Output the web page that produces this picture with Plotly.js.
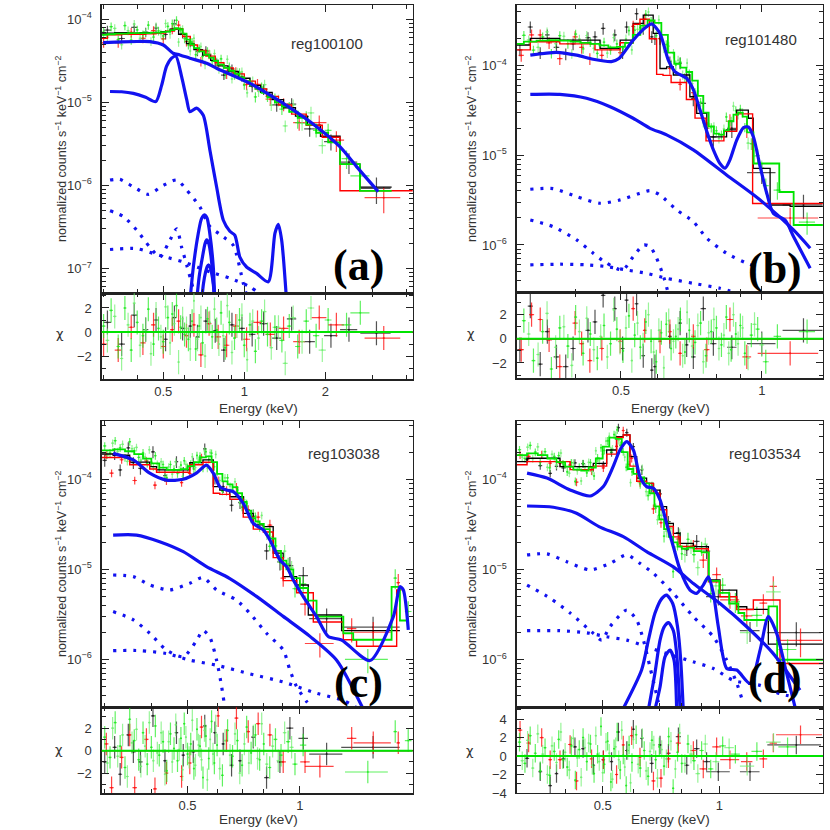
<!DOCTYPE html>
<html><head><meta charset="utf-8">
<script src="https://cdn.plot.ly/plotly-3.0.1.min.js"></script>
<style>html,body{margin:0;padding:0;background:#fff}#g{width:830px;height:830px}</style>
</head><body><div id="g"></div>
<script>
// ================= PANEL (a) reg100100 =================
const aGrnE=[0.30,0.32,0.34,0.36,0.38,0.40,0.42,0.44,0.46,0.48,0.50,0.52,0.54,0.56,0.58,0.60,0.62,0.64,0.66,0.68,0.70,0.73,0.76,0.79,0.82,0.85,0.88,0.92,0.96,1.00,1.05,1.10,1.16,1.22,1.30,1.38,1.47,1.58,1.70,1.85,2.05,2.40,2.70];
const aGrnDE=[0.005,0.005,0.005,0.005,0.005,0.005,0.005,0.005,0.005,0.005,0.006,0.006,0.006,0.006,0.006,0.006,0.006,0.006,0.006,0.006,0.008,0.008,0.008,0.008,0.01,0.01,0.01,0.012,0.012,0.012,0.015,0.015,0.02,0.02,0.025,0.03,0.03,0.035,0.04,0.05,0.06,0.1,0.22];
const aGrnY=[7.0e-5,8.15e-5,5.7e-5,8.4e-5,5.6e-5,7.45e-5,6.55e-5,8.5e-5,6.1e-5,7.25e-5,6.3e-5,8.2e-5,8.85e-5,9.7e-5,7.3e-5,5.85e-5,4.9e-5,5.3e-5,3.75e-5,4.45e-5,3.57e-5,4.1e-5,3.14e-5,3.07e-5,3.34e-5,2.19e-5,2.69e-5,2.12e-5,2.3e-5,1.61e-5,1.77e-5,1.16e-5,1.52e-5,1.17e-5,1.11e-5,8.3e-6,8.8e-6,5.7e-6,6.75e-6,4.6e-6,4.6e-6,2.1e-6,1.3e-6];
const aGrnRel=[0.12,0.12,0.12,0.12,0.12,0.12,0.12,0.12,0.12,0.12,0.12,0.12,0.12,0.12,0.12,0.12,0.12,0.12,0.12,0.12,0.12,0.12,0.12,0.12,0.12,0.12,0.12,0.12,0.12,0.12,0.12,0.14,0.14,0.14,0.15,0.15,0.15,0.16,0.16,0.18,0.2,0.25,0.3];
const aGrnChi=[0.5,1.8,-1.2,2.0,-1.5,0.8,-0.3,1.9,-1.0,0.3,-0.8,1.2,1.5,2.2,0.4,-0.2,-0.6,0.9,-1.4,0.5,-0.9,1.1,-0.4,0.2,1.6,-1.3,0.8,-0.5,1.0,-1.1,0.6,-1.6,0.9,-0.2,0.4,-0.7,0.5,-1.2,0.9,-0.3,1.0,0.6,1.6];
const aGrn2E=[0.31,0.33,0.35,0.37,0.39,0.41,0.43,0.45,0.47,0.49,0.51,0.53,0.55,0.57,0.59,0.61,0.63,0.65,0.67,0.69,0.715,0.745,0.775,0.805,0.835,0.865,0.90,0.94,0.98,1.025,1.075,1.13,1.19,1.26,1.34,1.42,1.52,1.64,1.77,1.95];
const aGrn2DE=[0.005,0.005,0.005,0.005,0.005,0.005,0.005,0.005,0.005,0.005,0.005,0.005,0.005,0.005,0.005,0.005,0.005,0.005,0.005,0.005,0.008,0.008,0.008,0.008,0.008,0.008,0.01,0.01,0.01,0.01,0.015,0.015,0.02,0.02,0.025,0.03,0.035,0.04,0.05,0.06];
const aGrn2Y=[6.05e-5,7.75e-5,4.93e-5,7.29e-5,8.76e-5,5.9e-5,6.96e-5,5.41e-5,8.14e-5,6.66e-5,8.89e-5,6.6e-5,8.46e-5,5.32e-5,7.58e-5,5.9e-5,4.16e-5,5.9e-5,4.18e-5,4.69e-5,2.85e-5,3.78e-5,3.87e-5,2.51e-5,2.75e-5,3.29e-5,1.91e-5,2.33e-5,2.34e-5,1.3e-5,1.8e-5,1.35e-5,1.63e-5,9.26e-6,1.06e-5,5.2e-6,9.27e-6,5.56e-6,7.45e-6,3.01e-6];
const aGrn2Rel=[0.12,0.12,0.12,0.12,0.12,0.12,0.12,0.12,0.12,0.12,0.12,0.12,0.12,0.12,0.12,0.12,0.12,0.12,0.12,0.12,0.12,0.12,0.12,0.12,0.12,0.12,0.12,0.12,0.12,0.12,0.14,0.14,0.15,0.15,0.16,0.16,0.17,0.18,0.19,0.2];
const aGrn2Chi=[-0.7,1.3,-2.2,0.6,2.4,-1.1,0.2,-1.8,1.5,-0.4,2.1,-0.9,0.7,-2.5,1.1,0.3,-1.4,2.6,-0.6,1.2,-2.0,0.8,1.9,-1.0,-0.3,2.2,-1.7,0.5,1.4,-2.3,0.9,-0.5,1.7,-1.3,0.4,-2.6,1.2,-0.8,2.0,-1.5];
const aBlkE=[0.31,0.35,0.39,0.43,0.47,0.51,0.55,0.59,0.63,0.67,0.72,0.78,0.84,0.90,0.98,1.07,1.18,1.32,1.50,1.75,2.10,2.45,3.10];
const aBlkDE=[0.01,0.01,0.01,0.01,0.01,0.01,0.01,0.01,0.01,0.01,0.015,0.015,0.02,0.02,0.025,0.03,0.04,0.05,0.06,0.08,0.12,0.18,0.4];
const aBlkY=[7.4e-5,5.87e-5,8.0e-5,7.0e-5,7.85e-5,6.55e-5,8.8e-5,6.75e-5,5.3e-5,4.12e-5,4.2e-5,3.14e-5,2.13e-5,2.53e-5,2.03e-5,1.55e-5,1.44e-5,9.3e-6,9.5e-6,4.8e-6,3.36e-6,1.9e-6,9.2e-7];
const aBlkRel=[0.13,0.13,0.13,0.13,0.13,0.13,0.13,0.13,0.13,0.13,0.13,0.13,0.13,0.13,0.13,0.15,0.15,0.17,0.18,0.2,0.22,0.28,0.35];
const aBlkChi=[0.8,-1.0,1.4,0.2,1.0,-0.6,1.2,0.3,0.5,-0.4,0.9,0.1,-1.5,0.6,0.3,-0.2,0.7,-0.5,1.1,-0.8,-0.3,0.2,-0.1];
const aRedE=[0.30,0.34,0.38,0.42,0.46,0.50,0.54,0.57,0.61,0.65,0.69,0.74,0.80,0.86,0.93,1.02,1.12,1.25,1.40,1.60,1.90,2.20,3.30];
const aRedDE=[0.01,0.01,0.01,0.01,0.01,0.01,0.01,0.01,0.01,0.01,0.015,0.015,0.02,0.02,0.025,0.03,0.04,0.05,0.06,0.08,0.12,0.15,0.5];
const aRedY=[5.2e-5,5.2e-5,6.95e-5,5.9e-5,7.3e-5,5.8e-5,7.6e-5,8.5e-5,5.4e-5,4.96e-5,3.1e-5,3.8e-5,2.8e-5,2.19e-5,2.34e-5,1.64e-5,1.64e-5,1.09e-5,9.5e-6,5.7e-6,5.7e-6,3.5e-6,7.1e-7];
const aRedRel=[0.13,0.13,0.13,0.13,0.13,0.13,0.13,0.13,0.13,0.13,0.13,0.13,0.13,0.13,0.13,0.15,0.16,0.17,0.18,0.2,0.22,0.28,0.35];
const aRedChi=[-1.0,-1.5,0.4,-0.9,0.6,-1.2,0.2,0.9,-0.3,0.6,-1.9,0.7,-0.4,-1.1,0.5,-0.6,0.8,-0.2,0.3,-0.8,1.2,0.6,-0.5];
const aBlkModE=[0.29,0.33,0.37,0.41,0.45,0.49,0.53,0.57,0.61,0.65,0.70,0.75,0.80,0.87,0.95,1.05,1.15,1.27,1.40,1.55,1.72,1.92,2.27,2.69,3.53];
const aBlkModY=[6.8e-5,6.9e-5,6.8e-5,6.9e-5,6.9e-5,7.1e-5,7.6e-5,6.6e-5,5.1e-5,4.3e-5,3.7e-5,3.2e-5,2.75e-5,2.35e-5,1.95e-5,1.6e-5,1.32e-5,1.08e-5,8.6e-6,6.8e-6,5.3e-6,3.9e-6,1.8e-6,9.5e-7,9.5e-7];
const aRedModE=[0.29,0.31,0.35,0.39,0.43,0.47,0.51,0.55,0.59,0.63,0.67,0.72,0.78,0.84,0.91,1.00,1.10,1.21,1.34,1.50,1.70,1.95,2.27,4.3];
const aRedModY=[5.9e-5,6.5e-5,6.6e-5,6.6e-5,6.7e-5,6.8e-5,7.2e-5,7.7e-5,6.2e-5,4.9e-5,4.2e-5,3.6e-5,3.0e-5,2.6e-5,2.2e-5,1.8e-5,1.45e-5,1.18e-5,9.3e-6,7.2e-6,5.3e-6,3.8e-6,8.6e-7,8.6e-7];
const aGrnModE=[0.29,0.31,0.33,0.35,0.37,0.39,0.41,0.43,0.45,0.47,0.49,0.51,0.53,0.55,0.57,0.59,0.61,0.63,0.65,0.68,0.71,0.74,0.77,0.80,0.84,0.88,0.92,0.96,1.00,1.05,1.10,1.16,1.22,1.30,1.38,1.47,1.58,1.70,1.85,2.05,2.27,2.69,3.53];
const aGrnModY=[6.5e-5,6.6e-5,6.7e-5,6.7e-5,6.8e-5,6.8e-5,6.8e-5,6.8e-5,6.9e-5,6.9e-5,7.0e-5,7.1e-5,7.4e-5,7.8e-5,7.6e-5,6.7e-5,5.7e-5,5.0e-5,4.5e-5,4.1e-5,3.75e-5,3.45e-5,3.15e-5,2.85e-5,2.6e-5,2.4e-5,2.2e-5,2.0e-5,1.8e-5,1.6e-5,1.45e-5,1.3e-5,1.15e-5,1.0e-5,8.9e-6,7.7e-6,6.5e-6,5.4e-6,4.3e-6,3.3e-6,1.8e-6,8.6e-7,8.6e-7];
const aTotE=[0.299,0.35,0.40,0.446,0.50,0.544,0.576,0.628,0.725,0.789,1.05,1.396,1.857,2.267,2.615,3.148];
const aTotY=[5.24e-5,5.35e-5,5.4e-5,5.38e-5,4.9e-5,3.9e-5,3.72e-5,3.4e-5,2.95e-5,2.57e-5,1.69e-5,9.7e-6,5.09e-6,2.92e-6,1.68e-6,8.4e-7];
const aLineE=[0.317,0.35,0.387,0.43,0.469,0.493,0.514,0.537,0.557,0.585,0.611,0.628,0.665,0.704,0.745,0.789,0.836,0.884,0.923,0.963,1.020,1.111,1.228,1.300,1.338,1.377,1.437];
const aLineY=[1.35e-5,1.34e-5,1.28e-5,1.15e-5,1.02e-5,1.6e-5,2.7e-5,3.4e-5,3.6e-5,2.04e-5,1.08e-5,7.7e-6,8.5e-6,7.0e-6,2.67e-6,9.6e-7,3.8e-7,2.8e-7,2.5e-7,1.37e-7,1.04e-7,8.7e-8,6.9e-8,2.64e-7,3.4e-7,2.2e-7,4e-8];
const aG1E=[0.628,0.647,0.674,0.694,0.714,0.728,0.745,0.767,0.777];
const aG1Y=[4e-8,1.05e-7,2.6e-7,4.0e-7,4.4e-7,4.0e-7,2.6e-7,1.05e-7,4e-8];
const aG2E=[0.665,0.68,0.70,0.715,0.725,0.738,0.752,0.765,0.777];
const aG2Y=[4e-8,8e-8,1.4e-7,2.0e-7,2.2e-7,2.0e-7,1.4e-7,8e-8,4e-8];
const aG3E=[0.694,0.705,0.718,0.728,0.735,0.745,0.755,0.767,0.777];
const aG3Y=[4e-8,6.5e-8,9e-8,1.05e-7,1.1e-7,1.05e-7,9e-8,6.5e-8,4e-8];
const aD1E=[0.317,0.345,0.387,0.440,0.50,0.561,0.611,0.684,0.745,0.836,0.910,0.992,1.035];
const aD1Y=[1.16e-6,1.18e-6,9.6e-7,7.8e-7,1.0e-6,1.16e-6,8.8e-7,5.5e-7,3.2e-7,2.4e-7,1.9e-7,6.6e-8,4e-8];
const aD2E=[0.317,0.356,0.398,0.446,0.486,0.522,0.561,0.585,0.611,0.665];
const aD2Y=[4.95e-7,4.2e-7,2.9e-7,1.8e-7,1.37e-7,2.0e-7,3.0e-7,1.8e-7,1.1e-7,4e-8];
const aD3E=[0.317,0.398,0.486,0.593,0.745,0.884,1.05,1.18];
const aD3Y=[1.69e-7,1.73e-7,1.43e-7,1.2e-7,9.1e-8,7.6e-8,6.0e-8,4.5e-8];

// ================= PANEL (b) reg101480 =================
const bBlkE=[0.304,0.320,0.336,0.348,0.364,0.381,0.395,0.425,0.440,0.458,0.485,0.504,0.514,0.540,0.558,0.582,0.591,0.636,0.669,0.691,0.714,0.750,0.788,0.863,1.000,1.228];
const bBlkDE=[0.004,0.004,0.004,0.004,0.005,0.005,0.005,0.005,0.005,0.005,0.005,0.005,0.005,0.005,0.005,0.005,0.005,0.006,0.006,0.006,0.008,0.01,0.012,0.02,0.07,0.12];
const bBlkY=[1.5e-4,2.7e-4,1.4e-4,2.2e-4,1.6e-4,1.35e-4,1.75e-4,2.05e-4,2.1e-4,2.6e-4,2.2e-4,1.4e-4,2.7e-4,3.8e-4,2.6e-4,2.1e-4,2.0e-4,1.1e-4,1.07e-4,7.4e-5,4.3e-5,3.8e-5,1.6e-5,2.0e-5,6.4e-6,2.8e-6];
const bBlkRel=[0.15,0.15,0.15,0.15,0.15,0.15,0.15,0.15,0.15,0.15,0.15,0.15,0.15,0.15,0.15,0.15,0.15,0.15,0.15,0.15,0.18,0.2,0.22,0.22,0.25,0.3];
const bBlkChi=[-0.9,2.7,-2.1,0.6,-1.5,-2.3,-0.8,0.7,1.4,3.6,2.5,-0.8,3.2,2.9,-1.4,-2.6,-2.3,0.2,1.3,-0.5,-1.5,2.5,-0.4,-0.7,-0.4,0.7];
const bRedE=[0.306,0.322,0.336,0.351,0.370,0.399,0.412,0.429,0.455,0.498,0.531,0.562,0.606,0.636,0.669,0.714,0.763,0.855,0.929,1.15];
const bRedDE=[0.004,0.004,0.004,0.005,0.005,0.005,0.005,0.005,0.005,0.005,0.005,0.005,0.006,0.006,0.006,0.008,0.01,0.015,0.02,0.17];
const bRedY=[1.3e-4,2.2e-4,2.2e-4,1.8e-4,1.2e-4,2.1e-4,1.6e-4,1.2e-4,1.3e-4,1.4e-4,2.75e-4,3.3e-4,2.0e-4,9.3e-5,6.2e-5,5.0e-5,2.0e-5,2.4e-5,2.0e-5,2.0e-6];
const bRedRel=[0.15,0.15,0.15,0.15,0.15,0.15,0.15,0.15,0.15,0.15,0.15,0.15,0.15,0.15,0.15,0.15,0.18,0.2,0.22,0.3];
const bRedChi=[-0.9,2.0,1.6,-0.1,-2.3,1.3,-0.4,-1.8,-0.8,-0.2,2.5,0.7,-0.2,0.6,-1.2,0.2,-0.9,1.6,-1.5,-1.2];
const bGrnE=[0.31,0.325,0.34,0.355,0.37,0.385,0.40,0.415,0.43,0.445,0.46,0.475,0.49,0.505,0.52,0.535,0.55,0.565,0.58,0.595,0.61,0.625,0.64,0.655,0.67,0.685,0.70,0.72,0.74,0.76,0.78,0.80,0.82,0.84,0.86,0.88,0.90,0.92,0.95,0.98,1.02,1.08,1.25];
const bGrnDE=[0.003,0.003,0.003,0.003,0.003,0.003,0.003,0.003,0.003,0.003,0.003,0.003,0.003,0.003,0.003,0.003,0.003,0.003,0.003,0.003,0.003,0.003,0.003,0.003,0.003,0.003,0.003,0.005,0.005,0.005,0.005,0.005,0.005,0.005,0.005,0.005,0.005,0.005,0.008,0.01,0.015,0.02,0.05];
const bGrnY=[2.18e-4,1.49e-4,2.09e-4,1.37e-4,2.16e-4,1.76e-4,2.25e-4,1.54e-4,1.83e-4,1.37e-4,1.83e-4,1.50e-4,1.75e-4,1.54e-4,2.46e-4,2.49e-4,2.66e-4,3.74e-4,3.12e-4,2.16e-4,2.23e-4,1.72e-4,1.04e-4,1.02e-4,1.10e-4,7.4e-5,8.1e-5,5.0e-5,3.9e-5,2.0e-5,2.04e-5,1.88e-5,1.69e-5,2.68e-5,2.41e-5,3.14e-5,3.28e-5,2.05e-5,1.35e-5,9.9e-6,4.6e-6,4.1e-6,1.8e-6];
const bGrnRel=[0.12,0.12,0.12,0.12,0.12,0.12,0.12,0.12,0.12,0.12,0.12,0.12,0.12,0.12,0.12,0.12,0.12,0.12,0.12,0.12,0.12,0.12,0.12,0.12,0.12,0.12,0.12,0.12,0.12,0.12,0.12,0.12,0.12,0.12,0.12,0.12,0.12,0.12,0.15,0.18,0.2,0.22,0.28];
const bGrnChi=[1.5,-1.8,0.6,-2.5,0.9,-0.6,1.8,-1.2,0.4,-1.6,1.1,-0.4,0.8,-1.0,1.9,0.3,-0.7,1.4,-0.2,-1.9,0.5,1.2,-0.8,0.2,1.6,-1.1,0.7,-0.3,1.3,-1.4,0.6,0.9,-0.5,1.8,-0.9,0.4,1.1,-1.2,0.3,0.8,-1.9,0.2,0.6];
const bGrn2E=[0.3175,0.3325,0.3475,0.3625,0.3775,0.3925,0.4075,0.4225,0.4375,0.4525,0.4675,0.4825,0.4975,0.5125,0.5275,0.5425,0.5575,0.5725,0.5875,0.6025,0.6175,0.6325,0.6475,0.6625,0.6775,0.6925,0.71,0.73,0.75,0.77,0.79,0.81,0.83,0.85,0.87,0.89,0.91,0.935,0.965,1.0];
const bGrn2DE=[0.003,0.003,0.003,0.003,0.003,0.003,0.003,0.003,0.003,0.003,0.003,0.003,0.003,0.003,0.003,0.003,0.003,0.003,0.003,0.003,0.003,0.003,0.003,0.003,0.003,0.003,0.005,0.005,0.005,0.005,0.005,0.005,0.005,0.005,0.005,0.005,0.005,0.008,0.01,0.012];
const bGrn2Y=[1.94e-4,1.6e-4,2.38e-4,1.76e-4,2.13e-4,1.36e-4,1.98e-4,2.17e-4,1.56e-4,1.72e-4,1.38e-4,2.06e-4,1.56e-4,1.99e-4,1.5e-4,2.54e-4,2.63e-4,3.97e-4,2.78e-4,3.25e-4,1.57e-4,1.65e-4,1.37e-4,1.15e-4,7.9e-5,1.07e-4,6.3e-5,5.2e-5,2.32e-5,2.23e-5,2.09e-5,1.54e-5,1.97e-5,2.05e-5,3.53e-5,2.86e-5,2.99e-5,1.37e-5,9.85e-6,7.3e-6];
const bGrn2Rel=[0.12,0.12,0.12,0.12,0.12,0.12,0.12,0.12,0.12,0.12,0.12,0.12,0.12,0.12,0.12,0.12,0.12,0.12,0.12,0.12,0.12,0.12,0.12,0.12,0.12,0.12,0.12,0.12,0.12,0.12,0.12,0.12,0.12,0.12,0.12,0.12,0.12,0.15,0.18,0.2];
const bGrn2Chi=[0.4,-1.3,2.1,-0.7,1.0,-2.2,0.6,1.7,-0.9,0.2,-1.5,2.4,-0.3,0.9,-1.8,1.3,-0.5,2.0,-1.1,0.7,-2.4,1.5,-0.2,0.8,-1.4,2.2,-0.6,1.1,-1.9,0.5,1.6,-0.8,0.3,-1.2,2.0,-0.4,0.9,-1.6,1.2,-0.5];
const bBlkModE=[0.299,0.320,0.370,0.451,0.498,0.531,0.558,0.586,0.606,0.626,0.647,0.702,0.726,0.763,0.841,0.884,0.936,0.959,1.042,1.15,1.351];
const bBlkModY=[1.70e-4,2.02e-4,1.93e-4,1.56e-4,1.93e-4,2.97e-4,3.67e-4,2.29e-4,9.3e-5,9.7e-5,7.87e-5,4.5e-5,2.94e-5,1.61e-5,1.92e-5,3.2e-5,2.59e-5,7.16e-6,2.79e-6,2.7e-6,2.7e-6];
const bRedModE=[0.299,0.320,0.370,0.440,0.498,0.531,0.549,0.575,0.596,0.615,0.640,0.690,0.720,0.760,0.830,0.884,0.956,1.351];
const bRedModY=[1.50e-4,1.85e-4,1.75e-4,1.5e-4,1.8e-4,2.9e-4,3.3e-4,2.0e-4,8.0e-5,7.8e-5,6.5e-5,4.2e-5,2.6e-5,1.45e-5,1.85e-5,2.9e-5,2.9e-6,2.9e-6];
const bGrnModE=[0.299,0.31,0.33,0.35,0.37,0.39,0.41,0.43,0.45,0.47,0.49,0.51,0.53,0.55,0.57,0.59,0.61,0.63,0.65,0.67,0.69,0.71,0.73,0.75,0.77,0.79,0.81,0.83,0.85,0.87,0.89,0.91,0.93,0.96,1.09,1.17,1.351];
const bGrnModY=[1.75e-4,1.85e-4,1.9e-4,1.92e-4,1.9e-4,1.85e-4,1.8e-4,1.75e-4,1.68e-4,1.6e-4,1.62e-4,1.8e-4,2.2e-4,2.8e-4,3.2e-4,3.0e-4,2.2e-4,1.4e-4,1.05e-4,9.5e-5,8.5e-5,6.8e-5,4.6e-5,3.0e-5,2.1e-5,1.75e-5,1.7e-5,1.9e-5,2.4e-5,2.85e-5,3.0e-5,2.7e-5,1.8e-5,8.1e-6,3.9e-6,1.67e-6,1.67e-6];
const bTotE=[0.320,0.364,0.402,0.436,0.477,0.495,0.531,0.567,0.582,0.606,0.631,0.652,0.691,0.714,0.738,0.763,0.788,0.814,0.835,0.855,0.884,0.914,0.936,0.960,0.992,1.025,1.059,1.122,1.169,1.269];
const bTotY=[1.31e-4,1.41e-4,1.31e-4,1.18e-4,1.11e-4,1.2e-4,1.93e-4,2.72e-4,2.92e-4,2.29e-4,1.16e-4,8.6e-5,7.2e-5,5.4e-5,3.2e-5,1.84e-5,1.15e-5,8.1e-6,7.2e-6,8.9e-6,1.48e-5,2.04e-5,2.07e-5,1.6e-5,7.5e-6,3.77e-6,2.25e-6,1.9e-6,1.24e-6,5.5e-7];
const bContE=[0.320,0.370,0.422,0.474,0.531,0.577,0.626,0.714,0.841,0.992,1.169,1.269];
const bContY=[4.79e-5,4.79e-5,4.33e-5,3.49e-5,2.59e-5,2.0e-5,1.69e-5,1.15e-5,6.04e-6,3.18e-6,1.47e-6,9.2e-7];
const bD1E=[0.320,0.358,0.402,0.451,0.498,0.549,0.577,0.606,0.658,0.714,0.763,0.841,0.929,0.976];
const bD1Y=[4.18e-6,4.25e-6,3.46e-6,2.92e-6,3.18e-6,3.77e-6,4.04e-6,3.61e-6,2.46e-6,1.82e-6,1.19e-6,8.07e-7,6.25e-7,5.73e-7];
const bD2E=[0.320,0.358,0.402,0.436,0.466,0.504,0.531,0.559,0.577,0.596,0.617,0.631];
const bD2Y=[1.9e-6,1.6e-6,1.14e-6,8.1e-7,6.25e-7,5.26e-7,7.4e-7,1.0e-6,9.6e-7,7.1e-7,4.4e-7,2.9e-7];
const bD3E=[0.320,0.370,0.422,0.466,0.514,0.567,0.626,0.714,0.814,0.884];
const bD3Y=[6.0e-7,6.1e-7,6.0e-7,5.73e-7,5.26e-7,4.83e-7,4.25e-7,3.73e-7,3.29e-7,2.9e-7];

// ================= PANEL (c) reg103038 =================
const cBlkE=[0.300,0.319,0.330,0.347,0.358,0.374,0.404,0.435,0.467,0.487,0.518,0.556,0.592,0.623,0.656,0.691,0.750,0.814,0.884,0.940,1.021,1.179,1.570];
const cBlkDE=[0.004,0.004,0.004,0.004,0.005,0.005,0.005,0.005,0.005,0.005,0.006,0.006,0.006,0.006,0.008,0.008,0.01,0.012,0.015,0.02,0.03,0.12,0.28];
const cBlkY=[1.62e-4,1.93e-4,1.27e-4,2.24e-4,1.53e-4,1.32e-4,2.02e-4,1.1e-4,1.57e-4,1.19e-4,1.51e-4,2.18e-4,1.03e-4,8.3e-5,5.15e-5,5.5e-5,3.86e-5,1.6e-5,1.21e-5,1.1e-5,8.5e-6,2.83e-6,2.28e-6];
const cBlkRel=[0.15,0.15,0.15,0.15,0.15,0.15,0.15,0.15,0.15,0.15,0.15,0.15,0.15,0.15,0.15,0.15,0.2,0.2,0.2,0.25,0.25,0.3,0.3];
const cBlkChi=[-1.0,0.3,-2.1,1.4,-0.1,-1.0,3.1,-0.9,1.6,-0.4,-0.1,2.2,1.6,0.6,-1.3,-0.9,1.2,-2.4,-1.0,2.0,1.1,-0.3,0.3];
const cRedE=[0.303,0.313,0.333,0.350,0.361,0.388,0.409,0.439,0.482,0.507,0.545,0.604,0.636,0.676,0.727,0.773,0.831,0.902,1.032,1.131,1.376,1.572,1.834];
const cRedDE=[0.004,0.004,0.004,0.004,0.005,0.005,0.005,0.005,0.005,0.006,0.006,0.006,0.006,0.008,0.008,0.01,0.012,0.015,0.03,0.1,0.04,0.18,0.02];
const cRedY=[1.86e-4,1.17e-4,1.65e-4,1.65e-4,9.7e-5,1.6e-4,8.6e-5,9.6e-5,9.2e-5,1.16e-4,1.75e-4,9.6e-5,7.5e-5,8.1e-5,4.6e-5,3.8e-5,3.1e-5,8e-6,4.1e-6,1.5e-6,2.2e-6,2.0e-6,7.1e-6];
const cRedRel=[0.1,0.1,0.1,0.1,0.1,0.1,0.1,0.1,0.1,0.1,0.1,0.12,0.12,0.12,0.12,0.15,0.15,0.2,0.25,0.3,0.3,0.3,0.25];
const cRedChi=[0.6,-3.3,-0.6,1.4,-3.3,1.0,-3.4,-2.0,-2.3,-1.1,2.1,3.1,0.9,2.9,1.7,2.4,1.4,-1.0,-1.0,-1.4,1.1,0.7,0.7];
const cGrnE=[0.30,0.31,0.32,0.33,0.34,0.35,0.36,0.37,0.38,0.39,0.40,0.41,0.42,0.43,0.44,0.45,0.46,0.47,0.48,0.49,0.50,0.51,0.52,0.53,0.54,0.55,0.56,0.57,0.58,0.59,0.60,0.62,0.64,0.66,0.68,0.70,0.72,0.74,0.76,0.78,0.80,0.83,0.86,0.89,0.93,0.97,1.02,1.52,1.80,1.95];
const cGrnDE=[0.003,0.003,0.003,0.003,0.003,0.003,0.003,0.003,0.003,0.003,0.003,0.003,0.003,0.003,0.003,0.003,0.003,0.003,0.003,0.003,0.003,0.003,0.003,0.003,0.003,0.003,0.003,0.003,0.003,0.003,0.003,0.005,0.005,0.005,0.005,0.005,0.005,0.005,0.005,0.005,0.005,0.008,0.01,0.01,0.012,0.015,0.02,0.2,0.02,0.04];
const cGrnY=[2.35e-4,1.97e-4,2.69e-4,2.24e-4,1.74e-4,2.62e-4,2.07e-4,1.75e-4,1.97e-4,1.5e-4,1.55e-4,1.83e-4,1.3e-4,1.46e-4,1.04e-4,1.46e-4,1.3e-4,1.16e-4,1.44e-4,1.61e-4,1.36e-4,1.48e-4,1.3e-4,1.84e-4,1.82e-4,1.33e-4,2.03e-4,1.67e-4,1.95e-4,1.38e-4,1.21e-4,7.4e-5,1.04e-4,7.8e-5,7.6e-5,4.9e-5,5.4e-5,3.6e-5,3.9e-5,2.9e-5,2.97e-5,1.8e-5,1.82e-5,1.17e-5,1.14e-5,6.1e-6,6.9e-6,1.0e-6,8.0e-6,3.4e-6];
const cGrnRel=[0.1,0.1,0.1,0.1,0.1,0.1,0.1,0.1,0.1,0.1,0.1,0.1,0.1,0.1,0.1,0.1,0.1,0.1,0.1,0.1,0.1,0.1,0.1,0.1,0.1,0.1,0.1,0.1,0.1,0.1,0.1,0.1,0.1,0.1,0.1,0.1,0.1,0.1,0.1,0.1,0.1,0.12,0.14,0.16,0.18,0.2,0.22,0.3,0.25,0.3];
const cGrnChi=[1.2,-0.6,2.5,0.4,-1.5,2.8,0.9,-0.8,1.6,-1.2,0.3,2.2,-0.4,0.8,-1.8,1.5,0.2,-0.9,1.1,2.4,-0.3,0.6,-1.6,1.9,0.4,-2.4,1.3,-0.7,2.6,-1.1,0.5,-2.2,1.8,-0.5,0.9,-1.3,2.1,-0.2,1.4,-0.8,0.6,-1.5,1.0,-0.4,0.8,-1.2,0.5,-1.9,1.7,0.9];
const cGrn2E=[0.305,0.315,0.325,0.335,0.345,0.355,0.365,0.375,0.385,0.395,0.405,0.415,0.425,0.435,0.445,0.455,0.465,0.475,0.485,0.495,0.505,0.515,0.525,0.535,0.545,0.555,0.565,0.575,0.585,0.595,0.61,0.63,0.65,0.67,0.69,0.71,0.73,0.75,0.77,0.79,0.815,0.845,0.875,0.91,0.95];
const cGrn2DE=[0.003,0.003,0.003,0.003,0.003,0.003,0.003,0.003,0.003,0.003,0.003,0.003,0.003,0.003,0.003,0.003,0.003,0.003,0.003,0.003,0.003,0.003,0.003,0.003,0.003,0.003,0.003,0.003,0.003,0.003,0.005,0.005,0.005,0.005,0.005,0.005,0.005,0.005,0.005,0.005,0.008,0.008,0.01,0.01,0.012];
const cGrn2Y=[1.87e-4,2.52e-4,2.04e-4,2.45e-4,1.58e-4,2.19e-4,2.26e-4,1.63e-4,1.77e-4,2.13e-4,1.37e-4,1.47e-4,1.57e-4,1.07e-4,1.37e-4,1.14e-4,1.56e-4,1.28e-4,1.08e-4,1.46e-4,1.32e-4,1.78e-4,1.35e-4,1.63e-4,1.61e-4,2.07e-4,1.33e-4,1.98e-4,1.5e-4,1.89e-4,9.7e-5,1.04e-4,8.4e-5,9.4e-5,5.6e-5,5.9e-5,4.0e-5,4.2e-5,3.16e-5,3.97e-5,2.4e-5,2.31e-5,1.38e-5,1.59e-5,1.05e-5];
const cGrn2Rel=[0.1,0.1,0.1,0.1,0.1,0.1,0.1,0.1,0.1,0.1,0.1,0.1,0.1,0.1,0.1,0.1,0.1,0.1,0.1,0.1,0.1,0.1,0.1,0.1,0.1,0.1,0.1,0.1,0.1,0.1,0.1,0.1,0.1,0.1,0.1,0.1,0.1,0.1,0.1,0.1,0.12,0.13,0.15,0.17,0.18];
const cGrn2Chi=[-1.1,2.0,-0.5,1.4,-2.3,0.7,1.9,-1.4,0.4,2.5,-0.9,-0.2,1.6,-2.1,0.8,-1.0,2.3,0.1,-1.7,1.2,-0.6,2.7,-1.3,0.5,-0.8,1.8,-2.6,1.0,-0.3,2.2,-1.6,0.9,-0.4,1.5,-2.0,0.6,-1.1,1.3,-0.7,2.4,-1.2,0.4,-0.9,1.6,0.3];
const cBlkModE=[0.294,0.316,0.35,0.396,0.413,0.507,0.550,0.586,0.610,0.649,0.705,0.750,0.798,0.848,0.902,0.980,1.053,1.293,1.853];
const cBlkModY=[1.91e-4,1.85e-4,1.55e-4,1.38e-4,1.27e-4,1.53e-4,1.64e-4,8.3e-5,7.6e-5,6.4e-5,4.19e-5,3.11e-5,2.98e-5,1.51e-5,8.3e-6,6.7e-6,3.11e-6,2.09e-6,2.09e-6];
const cRedModE=[0.294,0.316,0.35,0.396,0.413,0.507,0.550,0.586,0.610,0.649,0.705,0.750,0.798,0.848,0.902,0.980,1.086,1.307,1.418,1.816,1.87];
const cRedModY=[1.75e-4,1.75e-4,1.45e-4,1.3e-4,1.2e-4,1.45e-4,1.55e-4,7.0e-5,6.8e-5,6.0e-5,3.8e-5,2.8e-5,2.6e-5,1.35e-5,7.5e-6,5.5e-6,2.6e-6,1.65e-6,1.4e-6,5.9e-6,5.9e-6];
const cGrnModE=[0.294,0.316,0.34,0.36,0.38,0.40,0.42,0.44,0.46,0.48,0.50,0.52,0.54,0.56,0.58,0.60,0.62,0.64,0.66,0.68,0.70,0.72,0.74,0.76,0.78,0.80,0.83,0.86,0.89,0.92,0.96,1.00,1.05,1.108,1.307,1.389,1.76,1.853,1.951];
const cGrnModY=[2.1e-4,2.15e-4,2.05e-4,1.9e-4,1.7e-4,1.5e-4,1.35e-4,1.27e-4,1.27e-4,1.3e-4,1.4e-4,1.55e-4,1.75e-4,1.8e-4,1.55e-4,1.15e-4,9.5e-5,8.8e-5,8.2e-5,7.0e-5,5.6e-5,4.5e-5,3.7e-5,3.4e-5,3.2e-5,2.8e-5,2.2e-5,1.6e-5,1.25e-5,1.0e-5,8.0e-6,6.2e-6,4.5e-6,2.99e-6,1.95e-6,1.65e-6,6.4e-6,2.7e-6,2.7e-6];
const cTotE=[0.316,0.358,0.396,0.439,0.487,0.528,0.562,0.586,0.610,0.636,0.663,0.705,0.750,0.798,0.831,0.884,0.921,0.960,1.021,1.108,1.191,1.293,1.540,1.779,1.853,1.892,1.951];
const cTotY=[1.94e-4,1.64e-4,1.17e-4,9.8e-5,1.0e-4,1.17e-4,1.44e-4,1.17e-4,8.3e-5,7.6e-5,7.3e-5,5.4e-5,3.24e-5,2.74e-5,2.12e-5,1.27e-5,1.07e-5,7.6e-6,4.97e-6,2.98e-6,1.79e-6,1.64e-6,9.7e-7,2.98e-6,6.41e-6,5.9e-6,2.13e-6];
const cContE=[0.316,0.365,0.421,0.487,0.562,0.649,0.765,0.902,1.064,1.254,1.478];
const cContY=[2.4e-5,2.4e-5,2.03e-5,1.57e-5,1.07e-5,7.9e-6,5.0e-6,3.0e-6,1.8e-6,9.8e-7,2.8e-7];
const cD1E=[0.316,0.358,0.396,0.448,0.507,0.550,0.598,0.676,0.734,0.814,0.902,0.940,0.980,1.042,1.086];
const cD1Y=[8.65e-6,8.3e-6,6.7e-6,5.9e-6,7.0e-6,8.1e-6,5.9e-6,4.56e-6,3.25e-6,1.95e-6,1.27e-6,7.6e-7,4.97e-7,3.4e-7,2.8e-7];
const cD2E=[0.316,0.358,0.396,0.439,0.487,0.528,0.550,0.574,0.598,0.617,0.630];
const cD2Y=[3.39e-6,2.75e-6,1.95e-6,1.27e-6,1.07e-6,1.6e-6,2.09e-6,1.75e-6,9.8e-7,5e-7,2.8e-7];
const cD3E=[0.316,0.373,0.439,0.507,0.598,0.734,0.902,1.108,1.307,1.418];
const cD3Y=[1.25e-6,1.25e-6,1.16e-6,9.8e-7,8.6e-7,6.9e-7,5.6e-7,4.2e-7,3.5e-7,2.9e-7];

// ================= PANEL (d) reg103534 =================
const dBlkE=[0.319,0.345,0.366,0.380,0.396,0.424,0.445,0.473,0.502,0.527,0.549,0.577,0.600,0.631,0.669,0.703,0.739,0.784,0.824,0.874,0.927,0.994,1.200,1.580];
const dBlkDE=[0.004,0.004,0.004,0.004,0.005,0.005,0.005,0.005,0.005,0.005,0.005,0.006,0.006,0.006,0.008,0.008,0.01,0.012,0.012,0.015,0.02,0.07,0.07,0.25];
const dBlkY=[1.67e-4,1.42e-4,1.16e-4,1.39e-4,1.34e-4,1.52e-4,1.49e-4,1.35e-4,1.44e-4,1.98e-4,3.74e-4,3.29e-4,2.3e-4,1.27e-4,8.1e-5,6.9e-5,3.4e-5,2.56e-5,1.66e-5,2.05e-5,1.6e-5,5.0e-6,2.1e-6,2.0e-6];
const dBlkRel=[0.1,0.1,0.1,0.1,0.1,0.1,0.1,0.1,0.1,0.1,0.1,0.1,0.1,0.12,0.12,0.12,0.15,0.15,0.15,0.18,0.18,0.2,0.25,0.3];
const dBlkChi=[-0.25,-1.7,-3.2,-1.9,-0.3,1.0,0.8,-1.0,-0.4,-0.6,2.6,0.6,2.9,1.9,-0.8,1.2,0.3,2.1,-1.0,0.8,-0.6,-1.7,-1.7,1.2];
const dRedE=[0.306,0.322,0.348,0.366,0.388,0.412,0.428,0.468,0.502,0.543,0.565,0.594,0.624,0.676,0.707,0.739,0.784,0.857,0.909,0.984,1.065,1.177,1.299,1.378,1.620];
const dRedDE=[0.004,0.004,0.004,0.004,0.005,0.005,0.005,0.005,0.005,0.005,0.005,0.006,0.006,0.008,0.008,0.01,0.012,0.015,0.02,0.025,0.06,0.04,0.03,0.03,0.22];
const dRedY=[1.86e-4,1.79e-4,1.88e-4,1.51e-4,1.51e-4,1.44e-4,9.3e-5,1.24e-4,1.34e-4,2.32e-4,3.47e-4,1.71e-4,9.4e-5,4.7e-5,3.3e-5,2.87e-5,2.18e-5,1.85e-5,1.27e-5,8.8e-6,4.6e-6,3.06e-6,4.25e-6,6.5e-6,1.64e-6];
const dRedRel=[0.1,0.1,0.1,0.1,0.1,0.1,0.1,0.1,0.1,0.1,0.1,0.1,0.12,0.12,0.12,0.15,0.15,0.15,0.18,0.2,0.2,0.25,0.25,0.3,0.35];
const dRedChi=[2.8,1.4,2.0,-0.4,-0.4,1.25,-2.7,-0.3,-0.4,-2.0,1.2,2.2,-0.1,-2.7,-2.4,-0.3,1.4,0.6,-1.4,1.0,-0.4,-0.6,-0.3,1.4,2.3];
const dGrnE=[0.305,0.315,0.325,0.335,0.345,0.355,0.365,0.375,0.385,0.395,0.405,0.415,0.425,0.435,0.445,0.455,0.465,0.475,0.485,0.495,0.505,0.515,0.525,0.535,0.545,0.555,0.565,0.575,0.585,0.595,0.61,0.625,0.64,0.655,0.67,0.685,0.70,0.72,0.74,0.76,0.78,0.80,0.83,0.86,0.90,0.95,1.02,1.10,1.25,1.50];
const dGrnDE=[0.003,0.003,0.003,0.003,0.003,0.003,0.003,0.003,0.003,0.003,0.003,0.003,0.003,0.003,0.003,0.003,0.003,0.003,0.003,0.003,0.003,0.003,0.003,0.003,0.003,0.003,0.003,0.003,0.003,0.003,0.005,0.005,0.005,0.005,0.005,0.005,0.005,0.005,0.005,0.005,0.005,0.005,0.008,0.01,0.012,0.015,0.02,0.03,0.04,0.08];
const dGrnY=[2.13e-4,1.7e-4,2.37e-4,2.0e-4,1.55e-4,2.02e-4,1.34e-4,1.79e-4,1.83e-4,1.49e-4,1.21e-4,1.53e-4,9.5e-5,1.37e-4,1.5e-4,1.18e-4,1.53e-4,1.09e-4,1.73e-4,2.24e-4,2.09e-4,2.67e-4,2.09e-4,3.13e-4,3.53e-4,2.38e-4,2.02e-4,1.36e-4,1.46e-4,1.21e-4,1.47e-4,8.9e-5,9.6e-5,6.6e-5,8.4e-5,4.8e-5,4.0e-5,2.34e-5,3.0e-5,9.5e-6,1.91e-5,1.5e-5,2.16e-5,1.46e-5,1.72e-5,5.4e-6,6.7e-6,4.4e-6,3.1e-6,1.3e-6];
const dGrnRel=[0.1,0.1,0.1,0.1,0.1,0.1,0.1,0.1,0.1,0.1,0.1,0.1,0.1,0.1,0.1,0.1,0.1,0.1,0.1,0.1,0.1,0.1,0.1,0.1,0.1,0.1,0.1,0.1,0.1,0.1,0.12,0.12,0.12,0.12,0.12,0.12,0.12,0.15,0.15,0.15,0.15,0.15,0.18,0.18,0.18,0.2,0.2,0.25,0.25,0.3];
const dGrnChi=[1.5,-0.8,2.2,0.3,-1.6,0.9,-2.1,0.5,1.8,-0.4,-1.2,1.1,-2.6,0.7,2.0,-0.6,1.3,-1.9,0.2,3.2,-0.9,1.6,-2.8,0.8,2.6,-1.5,0.1,-3.2,1.2,-0.7,2.3,-1.3,0.6,-2.2,1.7,-0.4,1.0,-1.1,2.1,-3.5,0.4,-0.8,1.3,-0.5,0.6,-1.4,1.1,0.2,0.5,1.0];
const dGrn2E=[0.31,0.32,0.33,0.34,0.35,0.36,0.37,0.38,0.39,0.40,0.41,0.42,0.43,0.44,0.45,0.46,0.47,0.48,0.49,0.50,0.51,0.52,0.53,0.54,0.55,0.56,0.57,0.58,0.59,0.60,0.6175,0.6325,0.6475,0.6625,0.6775,0.6925,0.71,0.73,0.75,0.77,0.79,0.815,0.845,0.88,0.92,0.98,1.06,1.18,1.38];
const dGrn2DE=[0.003,0.003,0.003,0.003,0.003,0.003,0.003,0.003,0.003,0.003,0.003,0.003,0.003,0.003,0.003,0.003,0.003,0.003,0.003,0.003,0.003,0.003,0.003,0.003,0.003,0.003,0.003,0.003,0.003,0.003,0.005,0.005,0.005,0.005,0.005,0.005,0.005,0.005,0.005,0.005,0.005,0.008,0.01,0.012,0.015,0.02,0.03,0.05,0.06];
const dGrn2Y=[1.76e-4,2.27e-4,1.69e-4,2.29e-4,1.89e-4,1.36e-4,1.89e-4,1.44e-4,1.95e-4,1.44e-4,1.17e-4,1.52e-4,1.25e-4,9.6e-5,1.36e-4,1.54e-4,1.22e-4,2.07e-4,1.6e-4,1.89e-4,2.65e-4,2.99e-4,2.18e-4,3.08e-4,2.69e-4,2.56e-4,1.76e-4,1.38e-4,9.2e-5,1.36e-4,1.03e-4,1.3e-4,7.3e-5,7.4e-5,8.0e-5,3.56e-5,3.98e-5,2.67e-5,2.85e-5,1.58e-5,2.48e-5,1.46e-5,1.81e-5,1.05e-5,1.91e-5,6.6e-6,5.0e-6,2.0e-6,5.66e-6];
const dGrn2Rel=[0.1,0.1,0.1,0.1,0.1,0.1,0.1,0.1,0.1,0.1,0.1,0.1,0.1,0.1,0.1,0.1,0.1,0.1,0.1,0.1,0.1,0.1,0.1,0.1,0.1,0.1,0.1,0.1,0.1,0.1,0.12,0.12,0.12,0.12,0.12,0.12,0.15,0.15,0.15,0.15,0.15,0.18,0.18,0.18,0.18,0.2,0.22,0.25,0.3];
const dGrn2Chi=[-0.5,1.7,-1.3,2.4,0.2,-2.0,1.1,-0.7,2.6,0.4,-1.5,1.9,-0.2,-2.3,0.9,1.4,-1.0,2.2,-0.6,-1.8,1.5,0.3,-2.5,1.0,-0.4,2.8,-1.2,0.6,-2.9,1.8,-0.9,2.0,-1.6,0.5,1.2,-2.4,0.7,-0.3,1.6,-1.4,2.5,-0.8,0.2,-1.9,1.3,-0.6,0.9,-1.1,1.5];
const dBlkModE=[0.300,0.319,0.388,0.473,0.512,0.543,0.565,0.588,0.612,0.649,0.676,0.703,0.731,0.761,0.792,0.857,0.937,1.004,1.109,1.177,1.338,1.855];
const dBlkModY=[1.57e-4,1.71e-4,1.38e-4,1.5e-4,2.11e-4,2.97e-4,3.1e-4,1.78e-4,1.03e-4,9.0e-5,7.6e-5,4.97e-5,3.25e-5,2.52e-5,1.95e-5,1.79e-5,7.65e-6,5.9e-6,3.87e-6,3.61e-6,1.49e-6,1.49e-6];
const dRedModE=[0.300,0.319,0.412,0.473,0.512,0.543,0.565,0.588,0.612,0.649,0.676,0.703,0.731,0.761,0.792,0.857,0.937,1.004,1.109,1.224,1.434,1.855];
const dRedModY=[1.45e-4,1.57e-4,1.28e-4,1.4e-4,1.9e-4,2.9e-4,3.1e-4,1.4e-4,9.5e-5,9.0e-5,7.0e-5,4.6e-5,3.0e-5,2.3e-5,1.8e-5,1.7e-5,7.3e-6,5.0e-6,3.6e-6,4.6e-6,9.1e-7,9.1e-7];
const dGrnModE=[0.300,0.319,0.34,0.36,0.38,0.40,0.42,0.44,0.46,0.48,0.50,0.52,0.54,0.56,0.58,0.60,0.62,0.64,0.66,0.68,0.70,0.72,0.74,0.76,0.78,0.80,0.83,0.86,0.90,0.94,1.00,1.06,1.12,1.16,1.34,1.41,1.855];
const dGrnModY=[1.85e-4,1.94e-4,1.85e-4,1.7e-4,1.55e-4,1.38e-4,1.28e-4,1.25e-4,1.35e-4,1.7e-4,2.3e-4,2.9e-4,2.8e-4,2.0e-4,1.3e-4,1.15e-4,1.05e-4,9.0e-5,7.0e-5,5.0e-5,3.6e-5,2.8e-5,2.3e-5,2.0e-5,1.8e-5,1.7e-5,1.75e-5,1.6e-5,1.55e-5,7.5e-6,5.5e-6,4.2e-6,3.3e-6,2.76e-6,3.9e-6,1.0e-6,1.0e-6];
const dTotE=[0.319,0.359,0.412,0.464,0.502,0.532,0.554,0.577,0.600,0.624,0.649,0.676,0.703,0.731,0.761,0.792,0.840,0.874,0.909,0.937,0.965,0.994,1.045,1.109,1.200,1.274,1.338,1.406,1.492,1.552,1.583];
const dTotY=[1.17e-4,1.03e-4,7.62e-5,6.53e-5,8.3e-5,1.38e-4,2.11e-4,2.62e-4,2.11e-4,1.07e-4,8.3e-5,7.95e-5,5.9e-5,3.25e-5,1.79e-5,9.9e-6,5.93e-6,5.44e-6,6.73e-6,8.3e-6,5.44e-6,2.32e-6,8.0e-7,7.7e-7,5.47e-7,1.28e-6,3.0e-6,1.96e-6,7.05e-7,3.57e-7,2.54e-7];
const dContE=[0.319,0.373,0.428,0.489,0.565,0.649,0.761,0.857,1.004,1.177,1.378,1.615];
const dContY=[5.06e-5,4.9e-5,4.2e-5,2.99e-5,2.31e-5,1.58e-5,1.07e-5,7.0e-6,4.2e-6,2.32e-6,1.17e-6,4.6e-7];
const dD1E=[0.319,0.359,0.404,0.464,0.522,0.577,0.624,0.676,0.761,0.857,0.965,1.045,1.109,1.153];
const dD1Y=[1.45e-5,1.49e-5,1.22e-5,9.9e-6,1.17e-5,1.45e-5,1.17e-5,9.06e-6,5.44e-6,3.0e-6,1.8e-6,9.9e-7,5.5e-7,3.3e-7];
const dD2E=[0.319,0.366,0.412,0.473,0.497,0.522,0.577,0.612,0.637,0.662,0.688,0.703];
const dD2Y=[6.73e-6,4.8e-6,3.3e-6,1.96e-6,1.65e-6,2.33e-6,3.56e-6,2.75e-6,1.65e-6,8.36e-7,4.2e-7,2.8e-7];
const dD3E=[0.319,0.388,0.455,0.512,0.577,0.649,0.731,0.856,0.965,1.087,1.274,1.434,1.552];
const dD3Y=[2.1e-6,2.1e-6,1.99e-6,1.8e-6,1.65e-6,1.4e-6,1.17e-6,9.5e-7,8.0e-7,5.9e-7,5.2e-7,4.2e-7,3.9e-7];
const dG1E=[0.563,0.630,0.656,0.682,0.711,0.731,0.758,0.780,0.795,0.807];
const dG1Y=[2.8e-7,7.7e-7,1.65e-6,3.27e-6,4.79e-6,5.2e-6,4.2e-6,2.32e-6,9.9e-7,2.8e-7];
const dG2E=[0.656,0.682,0.703,0.720,0.739,0.761,0.776,0.792];
const dG2Y=[2.8e-7,7.1e-7,1.65e-6,2.3e-6,2.58e-6,2.1e-6,1.17e-6,2.8e-7];
const dG3E=[0.682,0.703,0.724,0.746,0.764,0.776];
const dG3Y=[2.8e-7,5.0e-7,1.08e-6,1.28e-6,9.9e-7,2.8e-7];

// ================= tick labels & text =================
const regNames=['reg100100','reg101480','reg103038','reg103534'];
const panelTags=['(a)','(b)','(c)','(d)'];
const yTopTickText={'1e-7':'10<sup>−7</sup>','1e-6':'10<sup>−6</sup>','1e-5':'10<sup>−5</sup>','1e-4':'10<sup>−4</sup>'};

// ================= build =================
const BLUE='rgb(18,18,240)';
const COL={blk:'rgba(25,25,25,0.75)',red:'rgba(255,15,15,0.78)',grn:'rgba(30,235,30,0.7)',grn2:'rgba(110,240,110,0.7)'};
const MODCOL={blk:'#000000',red:'#ff0000',grn:'#00e400'};
const traces=[];
function cross(E,dE,Y,rel,col,xa,ya){
  traces.push({type:'scatter',mode:'markers',x:E,y:Y,xaxis:xa,yaxis:ya,hoverinfo:'skip',showlegend:false,
    marker:{size:2,color:col},
    error_x:{type:'data',array:dE,color:col,thickness:1.2,width:0},
    error_y:{type:'data',array:Y.map((v,i)=>v*rel[i]),color:col,thickness:1.2,width:0}});
}
function resid(E,dE,C,col,xa,ya){
  traces.push({type:'scatter',mode:'markers',x:E,y:C,xaxis:xa,yaxis:ya,hoverinfo:'skip',showlegend:false,
    marker:{size:2,color:col},
    error_x:{type:'data',array:dE,color:col,thickness:1.2,width:0},
    error_y:{type:'constant',value:1,color:col,thickness:1.2,width:0}});
}
function step(E,Y,col,w,xa,ya){traces.push({type:'scatter',mode:'lines',x:E,y:Y,xaxis:xa,yaxis:ya,hoverinfo:'skip',showlegend:false,line:{shape:'hv',color:col,width:w}});}
function blue(E,Y,dotted,xa,ya){traces.push({type:'scatter',mode:'lines',x:E,y:Y,xaxis:xa,yaxis:ya,hoverinfo:'skip',showlegend:false,
  line:{color:BLUE,width:3.2,shape:'spline',smoothing:0.7,dash:dotted?'3px,7px':'solid'}});}

const panels=[
 {xt:'x',yt:'y',xr:'x5',yr:'y5',
  data:{blk:[aBlkE,aBlkDE,aBlkY,aBlkRel,aBlkChi],red:[aRedE,aRedDE,aRedY,aRedRel,aRedChi],grn2:[aGrn2E,aGrn2DE,aGrn2Y,aGrn2Rel,aGrn2Chi],grn:[aGrnE,aGrnDE,aGrnY,aGrnRel,aGrnChi]},
  mod:{blk:[aBlkModE,aBlkModY],red:[aRedModE,aRedModY],grn:[aGrnModE,aGrnModY]},
  solid:[[aTotE,aTotY],[aLineE,aLineY],[aG1E,aG1Y],[aG2E,aG2Y],[aG3E,aG3Y]],
  dotted:[[aD1E,aD1Y],[aD2E,aD2Y],[aD3E,aD3Y]]},
 {xt:'x2',yt:'y2',xr:'x6',yr:'y6',
  data:{blk:[bBlkE,bBlkDE,bBlkY,bBlkRel,bBlkChi],red:[bRedE,bRedDE,bRedY,bRedRel,bRedChi],grn2:[bGrn2E,bGrn2DE,bGrn2Y,bGrn2Rel,bGrn2Chi],grn:[bGrnE,bGrnDE,bGrnY,bGrnRel,bGrnChi]},
  mod:{blk:[bBlkModE,bBlkModY],red:[bRedModE,bRedModY],grn:[bGrnModE,bGrnModY]},
  solid:[[bTotE,bTotY],[bContE,bContY]],
  dotted:[[bD1E,bD1Y],[bD2E,bD2Y],[bD3E,bD3Y]]},
 {xt:'x3',yt:'y3',xr:'x7',yr:'y7',
  data:{blk:[cBlkE,cBlkDE,cBlkY,cBlkRel,cBlkChi],red:[cRedE,cRedDE,cRedY,cRedRel,cRedChi],grn2:[cGrn2E,cGrn2DE,cGrn2Y,cGrn2Rel,cGrn2Chi],grn:[cGrnE,cGrnDE,cGrnY,cGrnRel,cGrnChi]},
  mod:{blk:[cBlkModE,cBlkModY],red:[cRedModE,cRedModY],grn:[cGrnModE,cGrnModY]},
  solid:[[cTotE,cTotY],[cContE,cContY]],
  dotted:[[cD1E,cD1Y],[cD2E,cD2Y],[cD3E,cD3Y]]},
 {xt:'x4',yt:'y4',xr:'x8',yr:'y8',
  data:{blk:[dBlkE,dBlkDE,dBlkY,dBlkRel,dBlkChi],red:[dRedE,dRedDE,dRedY,dRedRel,dRedChi],grn2:[dGrn2E,dGrn2DE,dGrn2Y,dGrn2Rel,dGrn2Chi],grn:[dGrnE,dGrnDE,dGrnY,dGrnRel,dGrnChi]},
  mod:{blk:[dBlkModE,dBlkModY],red:[dRedModE,dRedModY],grn:[dGrnModE,dGrnModY]},
  solid:[[dTotE,dTotY],[dContE,dContY],[dG1E,dG1Y],[dG2E,dG2Y],[dG3E,dG3Y]],
  dotted:[[dD1E,dD1Y],[dD2E,dD2Y],[dD3E,dD3Y]]}
];
panels.forEach(p=>{
  ['blk','red','grn2','grn'].forEach(k=>{const d=p.data[k];cross(d[0],d[1],d[2],d[3],COL[k],p.xt,p.yt);resid(d[0],d[1],d[4],COL[k],p.xr,p.yr);});
  step(p.mod.blk[0],p.mod.blk[1],MODCOL.blk,1.3,p.xt,p.yt);
  step(p.mod.red[0],p.mod.red[1],MODCOL.red,1.4,p.xt,p.yt);
  step(p.mod.grn[0],p.mod.grn[1],MODCOL.grn,1.8,p.xt,p.yt);
  p.dotted.forEach(c=>blue(c[0],c[1],true,p.xt,p.yt));
  p.solid.forEach(c=>blue(c[0],c[1],false,p.xt,p.yt));
});

// ================= layout =================
const FONT='Liberation Sans, Arial, sans-serif';
const TXT='#333';
function logMinor(lo,hi){const v=[];for(let e=lo;e<=hi;e++)for(let k=2;k<=9;k++)v.push(k*Math.pow(10,e));return v;}
function base(o){return Object.assign({showgrid:false,zeroline:false,showline:true,linecolor:'#222',linewidth:1.3,mirror:'allticks',
  ticks:'inside',ticklen:7,tickwidth:1,tickcolor:'#222',tickfont:{family:FONT,size:13,color:TXT,weight:'normal'}},o);}
const xMinor={ticks:'inside',ticklen:4,tickwidth:1,tickcolor:'#222'};
const XL=[0.1225,0.4972], XR=[0.6225,0.9916];
const layout={width:830,height:830,margin:{l:0,r:0,t:0,b:0},paper_bgcolor:'#fff',plot_bgcolor:'#fff',showlegend:false,
 xaxis: base({domain:XL,anchor:'y',type:'log',range:[-0.530,0.626],tickvals:[0.5,1,2],showticklabels:false,minor:Object.assign({tickvals:[0.3,0.4,0.6,0.7,0.8,0.9,3,4]},xMinor)}),
 xaxis5:base({domain:XL,anchor:'y5',type:'log',range:[-0.530,0.626],tickvals:[0.5,1,2],ticktext:['0.5','1','2'],minor:Object.assign({tickvals:[0.3,0.4,0.6,0.7,0.8,0.9,3,4]},xMinor)}),
 xaxis2:base({domain:XR,anchor:'y2',type:'log',range:[-0.524,0.131],tickvals:[0.5,1],showticklabels:false,minor:Object.assign({tickvals:[0.3,0.4,0.6,0.7,0.8,0.9]},xMinor)}),
 xaxis6:base({domain:XR,anchor:'y6',type:'log',range:[-0.524,0.131],tickvals:[0.5,1],ticktext:['0.5','1'],minor:Object.assign({tickvals:[0.3,0.4,0.6,0.7,0.8,0.9]},xMinor)}),
 xaxis3:base({domain:XL,anchor:'y3',type:'log',range:[-0.531,0.302],tickvals:[0.5,1],showticklabels:false,minor:Object.assign({tickvals:[0.3,0.4,0.6,0.7,0.8,0.9]},xMinor)}),
 xaxis7:base({domain:XL,anchor:'y7',type:'log',range:[-0.531,0.302],tickvals:[0.5,1],ticktext:['0.5','1'],minor:Object.assign({tickvals:[0.3,0.4,0.6,0.7,0.8,0.9]},xMinor)}),
 xaxis4:base({domain:XR,anchor:'y4',type:'log',range:[-0.523,0.2676],tickvals:[0.5,1],showticklabels:false,minor:Object.assign({tickvals:[0.3,0.4,0.6,0.7,0.8,0.9]},xMinor)}),
 xaxis8:base({domain:XR,anchor:'y8',type:'log',range:[-0.523,0.2676],tickvals:[0.5,1],ticktext:['0.5','1'],minor:Object.assign({tickvals:[0.3,0.4,0.6,0.7,0.8,0.9]},xMinor)}),
 yaxis: base({domain:[0.6466,0.9940],anchor:'x',type:'log',range:[-7.30,-3.828],tickvals:[1e-7,1e-6,1e-5,1e-4],ticktext:[yTopTickText['1e-7'],yTopTickText['1e-6'],yTopTickText['1e-5'],yTopTickText['1e-4']],ticklabelstandoff:6,minor:Object.assign({tickvals:logMinor(-8,-4)},xMinor)}),
 yaxis2:base({domain:[0.6474,0.9940],anchor:'x2',type:'log',range:[-6.532,-3.323],tickvals:[1e-6,1e-5,1e-4],ticktext:[yTopTickText['1e-6'],yTopTickText['1e-5'],yTopTickText['1e-4']],ticklabelstandoff:6,minor:Object.assign({tickvals:logMinor(-7,-4)},xMinor)}),
 yaxis3:base({domain:[0.1478,0.4928],anchor:'x3',type:'log',range:[-6.533,-3.352],tickvals:[1e-6,1e-5,1e-4],ticktext:[yTopTickText['1e-6'],yTopTickText['1e-5'],yTopTickText['1e-4']],ticklabelstandoff:6,minor:Object.assign({tickvals:logMinor(-7,-4)},xMinor)}),
 yaxis4:base({domain:[0.1478,0.4928],anchor:'x4',type:'log',range:[-6.527,-3.354],tickvals:[1e-6,1e-5,1e-4],ticktext:[yTopTickText['1e-6'],yTopTickText['1e-5'],yTopTickText['1e-4']],ticklabelstandoff:6,minor:Object.assign({tickvals:logMinor(-7,-4)},xMinor)}),
 yaxis5:base({domain:[0.5430,0.6466],anchor:'x5',range:[-3.93,3.22],tickvals:[-2,0,2],ticktext:['−2','0','2'],ticklabelstandoff:6,minor:Object.assign({tickvals:[-3,-1,1,3]},xMinor)}),
 yaxis6:base({domain:[0.5442,0.6474],anchor:'x6',range:[-3.27,3.82],tickvals:[-2,0,2],ticktext:['−2','0','2'],ticklabelstandoff:6,minor:Object.assign({tickvals:[-3,-1,1,3]},xMinor)}),
 yaxis7:base({domain:[0.0442,0.1478],anchor:'x7',range:[-3.8,3.86],tickvals:[-2,0,2],ticktext:['−2','0','2'],ticklabelstandoff:6,minor:Object.assign({tickvals:[-3,-1,1,3]},xMinor)}),
 yaxis8:base({domain:[0.0446,0.1478],anchor:'x8',range:[-4.0,5.27],tickvals:[-4,-2,0,2,4],ticktext:['−4','−2','0','2','4'],ticklabelstandoff:6,minor:Object.assign({tickvals:[-3,-1,1,3,5]},xMinor)}),
 shapes:[],annotations:[]
};
[['x5','y5'],['x6','y6'],['x7','y7'],['x8','y8']].forEach(([xa,ya])=>{
  ['#000000','#ff0000','#00e400'].forEach((c,i)=>layout.shapes.push({type:'line',xref:xa+' domain',yref:ya,x0:0,x1:1,y0:0,y1:0,line:{color:c,width:i==2?2:1.2},layer:'above'}));
});
function ann(text,px,py,o){layout.annotations.push(Object.assign({text:text,xref:'paper',yref:'paper',x:px/830,y:1-py/830,showarrow:false,xanchor:'center',yanchor:'middle',font:{family:FONT,size:13,color:TXT}},o||{}));}
const yTitle='normalized counts s<sup>−1</sup> keV<sup>−1</sup> cm<sup>−2</sup>';
const TF={family:FONT,size:12.5,color:TXT};
ann(yTitle,61,149,{textangle:-90,font:TF});
ann(yTitle,471,149,{textangle:-90,font:TF});
ann(yTitle,61,564,{textangle:-90,font:TF});
ann(yTitle,471,564,{textangle:-90,font:TF});
const CHIF={family:'DejaVu Sans, sans-serif',size:13,color:TXT};
ann('χ',60,333,{font:CHIF});
ann('χ',471,333,{font:CHIF});
ann('χ',59,749,{font:CHIF});
ann('χ',470,750,{font:CHIF});
const EF={family:FONT,size:13.5,color:TXT};
ann('Energy (keV)',258,408,{font:EF});
ann('Energy (keV)',670,408,{font:EF});
ann('Energy (keV)',258,819,{font:EF});
ann('Energy (keV)',670,819,{font:EF});
const RF={family:FONT,size:15,color:TXT};
ann(regNames[0],327,44,{font:RF});
ann(regNames[1],761,39,{font:RF});
ann(regNames[2],344,453,{font:RF});
ann(regNames[3],765,453,{font:RF});
const TAGF={family:'Liberation Serif, Times New Roman, serif',size:44,color:'#000'};
ann('<b>'+panelTags[0]+'</b>',358,265,{font:TAGF});
ann('<b>'+panelTags[1]+'</b>',775,268,{font:TAGF});
ann('<b>'+panelTags[2]+'</b>',358,682,{font:TAGF});
ann('<b>'+panelTags[3]+'</b>',775,678,{font:TAGF});

Plotly.newPlot('g',traces,layout,{staticPlot:true,displayModeBar:false});
</script></body></html>
